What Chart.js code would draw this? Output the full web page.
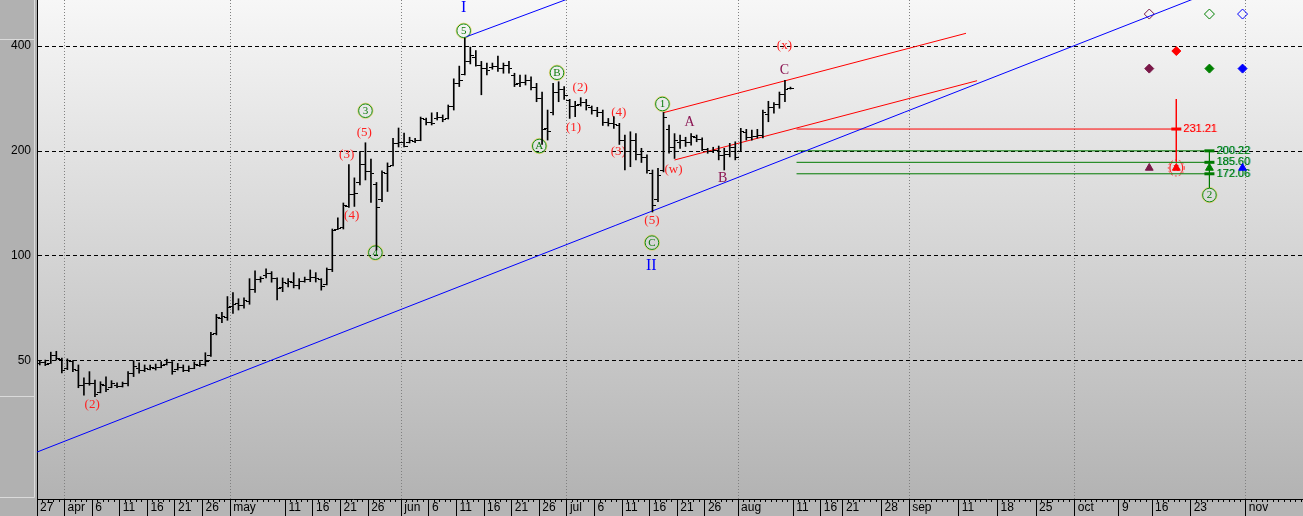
<!DOCTYPE html>
<html>
<head>
<meta charset="utf-8">
<script src="https://cdn.jsdelivr.net/npm/chart.js@4.4.1/dist/chart.umd.min.js"></script>
<style>
  html, body { margin: 0; padding: 0; background: #b4b4b4; overflow: hidden; }
</style>
</head>
<body>
<canvas id="wave_chart" width="1303" height="516"></canvas>
<script>
// daily bars, first bar = 27 mar, one bar per calendar day
const bar_high = [
  50.1, 50.3, 53.0, 53.3, 51.0, 50.7, 50.1, 48.7, 44.7, 46.6,
  44.1, 43.6, 45.0, 43.9, 43.3, 43.5, 46.6, 50.1, 49.4, 48.7,
  48.7, 49.0, 49.8, 50.6, 49.8, 49.2, 48.7, 48.4, 49.7, 49.8,
  52.8, 60.4, 68.0, 68.9, 76.5, 78.6, 75.4, 75.9, 86.1, 90.6,
  87.2, 91.8, 90.2, 86.5, 86.5, 86.1, 89.6, 86.1, 87.0, 91.2,
  89.6, 86.1, 92.4, 119.5, 128.7, 141.9, 182.8, 167.5, 199.1, 211.2,
  189.7, 162.5, 175.5, 184.9, 217.6, 232.8, 225.3, 219.0, 217.6, 250.3,
  248.6, 257.3, 258.0, 253.7, 271.0, 322.1, 350.3, 421.6, 397.2, 388.1,
  361.4, 357.5, 357.5, 374.5, 357.5, 361.4, 334.2, 330.4, 330.4, 326.4,
  312.6, 295.2, 262.1, 312.6, 316.0, 305.8, 281.3, 277.7, 284.4, 281.3,
  269.2, 266.9, 262.1, 248.0, 250.9, 240.1, 222.2, 227.1, 224.3, 203.6,
  194.9, 176.4, 178.4, 258.0, 237.5, 224.3, 222.2, 219.0, 224.3, 222.2,
  218.0, 203.6, 205.0, 206.7, 203.6, 210.4, 212.6, 232.3, 230.8, 229.7,
  230.8, 262.1, 277.7, 275.2, 295.2, 318.7, 305.0
];
const bar_low = [
  48.7, 48.5, 49.2, 50.3, 46.2, 47.2, 46.6, 41.9, 39.9, 42.6,
  39.5, 40.5, 40.8, 41.9, 41.9, 42.1, 42.4, 45.1, 46.1, 46.6,
  47.1, 47.1, 47.8, 48.7, 45.8, 47.1, 46.6, 46.6, 47.5, 48.2,
  48.4, 51.5, 59.4, 64.4, 65.4, 68.4, 70.0, 70.9, 72.7, 78.6,
  84.1, 86.5, 84.1, 74.8, 79.0, 81.5, 81.0, 80.4, 84.1, 84.4,
  84.2, 79.8, 82.6, 90.2, 119.0, 119.5, 137.8, 138.7, 159.9, 165.2,
  142.4, 104.0, 143.1, 153.1, 181.1, 205.4, 205.4, 210.9, 211.2, 214.0,
  237.5, 237.5, 245.4, 242.6, 246.9, 262.1, 306.0, 330.4, 355.4, 350.3,
  289.9, 330.4, 343.2, 338.4, 334.2, 334.2, 306.0, 306.0, 309.2, 299.2,
  276.9, 208.8, 215.0, 253.7, 276.9, 281.3, 248.0, 250.9, 269.0, 262.1,
  255.1, 250.9, 236.7, 235.9, 232.3, 208.8, 176.4, 180.3, 188.6, 185.4,
  172.7, 133.7, 143.1, 174.2, 197.0, 190.4, 203.6, 206.1, 208.0, 212.6,
  200.4, 197.0, 197.8, 188.6, 176.4, 192.4, 188.6, 199.1, 215.0, 215.0,
  217.9, 217.9, 242.6, 256.8, 265.2, 276.9, 301.0
];
const bar_open = [
  49.2, 49.4, 49.3, 52.0, 50.6, 47.5, 49.8, 47.0, 42.5, 43.2,
  43.0, 40.5, 42.5, 42.0, 42.5, 42.3, 43.0, 46.0, 47.6, 47.0,
  47.4, 47.6, 48.0, 48.9, 49.5, 47.3, 47.8, 47.1, 47.7, 48.5,
  49.0, 52.0, 60.0, 66.0, 66.5, 71.5, 73.0, 72.0, 74.0, 80.0,
  85.5, 88.0, 89.0, 86.0, 81.0, 83.5, 84.0, 82.5, 84.5, 85.5,
  86.8, 85.5, 83.0, 91.5, 119.5, 121.0, 139.0, 150.0, 162.0, 183.0,
  175.0, 160.0, 145.0, 172.0, 182.0, 210.0, 212.0, 212.0, 213.0, 214.5,
  246.0, 242.0, 248.0, 250.0, 248.0, 268.0, 312.0, 332.0, 360.0, 372.0,
  352.0, 345.0, 348.0, 350.0, 345.0, 352.0, 330.0, 312.0, 314.0, 318.0,
  305.0, 282.0, 232.0, 258.0, 295.0, 300.0, 280.0, 268.0, 272.0, 276.0,
  266.0, 262.0, 258.0, 242.0, 240.0, 236.0, 215.0, 200.0, 215.0, 195.0,
  192.0, 172.0, 145.0, 176.0, 230.0, 205.0, 212.0, 214.0, 212.0, 218.0,
  216.0, 202.0, 199.0, 201.0, 194.0, 196.0, 205.0, 200.0, 226.0, 218.0,
  220.0, 222.0, 255.0, 266.0, 272.0, 290.0, 303.0
];
const bar_close = [
  49.4, 49.0, 52.0, 50.8, 47.0, 50.0, 47.2, 42.5, 43.2, 43.0,
  40.2, 42.8, 41.5, 43.0, 42.2, 43.0, 46.0, 48.2, 46.8, 47.5,
  47.8, 47.9, 48.6, 49.4, 46.5, 48.0, 47.0, 47.6, 48.9, 49.0,
  49.8, 59.5, 66.5, 67.2, 71.0, 72.5, 72.0, 74.5, 80.0, 85.5,
  86.0, 89.2, 86.0, 80.5, 84.0, 84.5, 82.5, 84.5, 85.5, 87.0,
  86.0, 81.5, 91.5, 118.0, 120.0, 139.5, 150.0, 151.0, 183.0, 175.0,
  172.0, 138.0, 173.0, 181.0, 210.0, 212.0, 206.0, 214.0, 214.0, 248.0,
  242.0, 240.0, 250.0, 246.0, 268.0, 312.0, 318.0, 360.0, 375.0, 352.0,
  345.0, 340.0, 350.0, 345.0, 352.0, 345.0, 310.0, 314.0, 318.0, 305.0,
  282.0, 230.0, 228.0, 295.0, 300.0, 288.0, 268.0, 270.0, 276.0, 270.0,
  262.0, 258.0, 242.0, 240.0, 238.0, 215.0, 200.0, 215.0, 195.0, 192.0,
  176.0, 140.0, 170.0, 250.0, 205.0, 215.0, 214.0, 212.0, 220.0, 216.0,
  202.0, 199.0, 201.0, 194.0, 196.0, 205.0, 192.0, 228.0, 218.0, 220.0,
  222.0, 258.0, 266.0, 272.0, 290.0, 300.0, 302.0
];

// x axis: day number counted from 27 mar
const tick_days = [0, 5, 10, 15, 20, 25, 30, 35, 45, 50, 55, 60, 66, 71, 76, 81, 86, 91, 96, 101, 106, 111, 116, 121, 127, 137, 142, 146, 153, 158, 167, 174, 181, 188, 196, 202, 209, 219];
const tick_labels = ["27", "apr", "6", "11", "16", "21", "26", "may", "11", "16", "21", "26", "jun", "6", "11", "16", "21", "26", "jul", "6", "11", "16", "21", "26", "aug", "11", "16", "21", "28", "sep", "11", "18", "25", "oct", "9", "16", "23", "nov"];
const month_days = [5, 35, 66, 96, 127, 158, 188, 219];
const y_ticks = [50, 100, 200, 400];

// trend lines
const blue_lower_days = [0, 229.35];
const blue_lower_prices = [27.4, 724.6];
const blue_upper_days = [77.8, 100];
const blue_upper_prices = [425.3, 575.0];
const red_upper_days = [113.5, 168.3];
const red_upper_prices = [257.6, 435.0];
const red_lower_days = [115.5, 170.3];
const red_lower_prices = [188.5, 318.1];

// target levels
const level_prices = [231.21, 200.22, 185.60, 172.06];
const level_labels = ["231.21", "200.22", "185.60", "172.06"];
const level_start_day = 137.6;
const level_end_days = [206.4, 212.4, 212.4, 212.4];
const level_colors = ["#ff0000", "#007a00", "#007a00", "#007a00"];
const red_stem_days = [206.4, 206.4];
const red_stem_prices = [281.9, 186.3];
const green_stem_days = [212.4, 212.4];
const green_stem_prices = [200.22, 157];

// projection markers
const hollow_days = [201.5, 212.4, 218.4];
const hollow_prices = [494, 494, 494];
const hollow_colors = ["#7a1848", "#008000", "#0000ff"];
const solid_days = [206.4, 201.5, 212.4, 218.4];
const solid_prices = [387, 344.6, 344.6, 344.6];
const solid_colors = ["#ff0000", "#7a1848", "#008000", "#0000ff"];
const tri_days = [201.5, 206.4, 212.4, 218.4];
const tri_prices = [178.8, 178.8, 178.8, 178.8];
const tri_colors = ["#7a1848", "#ff0000", "#008000", "#0000ff"];

// wave labels
const wave_text = ["(2)", "(3)", "(4)", "(5)", "3", "4", "5", "I", "A", "B", "(2)", "(1)", "(4)", "(3)", "(5)", "C", "II", "1", "(w)", "A", "B", "C", "(x)", "(x)", "2"];
const wave_day = [10.0, 56.1, 57.0, 59.3, 59.5, 61.3, 77.3, 77.3, 91.0, 94.2, 98.4, 97.2, 105.4, 105.3, 111.4, 111.4, 111.3, 113.3, 115.3, 118.2, 124.2, 135.4, 135.4, 206.4, 212.4];
const wave_price = [37.4, 194.8, 130.2, 225.2, 260.9, 102.2, 442.4, 513.9, 206.7, 335.3, 303.6, 233.3, 257.6, 199.1, 126.2, 109.2, 93.9, 272.8, 176.4, 241.7, 167.0, 341.5, 400, 178.8, 149.5];
const wave_kind = ["red", "red", "red", "red", "circle", "circle", "circle", "roman", "circle", "circle", "red", "red", "red", "red", "red", "circle", "roman", "circle", "red", "letter", "letter", "letter", "red", "ring", "circle"];

const x_max = 229.35;
const y_min = 20.1;
const y_max = 542;

function tick_image(side) {
  const c = document.createElement("canvas");
  c.width = 7;
  c.height = 1;
  const g = c.getContext("2d");
  g.fillStyle = "#000";
  g.fillRect(side === "open" ? 0 : 4, 0, 3, 1);
  return c;
}

function segment(days, prices, color) {
  return {
    type: "line",
    data: days.map((d, i) => ({ x: d, y: prices[i] })),
    borderColor: color,
    borderWidth: 1,
    pointRadius: 0,
    fill: false,
    tension: 0,
  };
}

const background_plugin = {
  id: "background",
  beforeDraw(chart) {
    const { ctx, chartArea: a, width, height } = chart;
    ctx.save();
    const grad = ctx.createLinearGradient(0, a.top, 0, a.bottom);
    grad.addColorStop(0, "#f7f7f7");
    grad.addColorStop(1, "#b3b3b3");
    ctx.fillStyle = grad;
    ctx.fillRect(a.left, a.top, a.right - a.left, a.bottom - a.top);
    ctx.fillStyle = "#b5b5b5";
    ctx.fillRect(a.left, a.bottom, width - a.left, height - a.bottom);
    ctx.fillStyle = "#b1b1b1";
    ctx.fillRect(0, 0, a.left, height);
    ctx.strokeStyle = "#dadada";
    ctx.lineWidth = 1;
    ctx.beginPath();
    ctx.moveTo(34.5, 0);
    ctx.lineTo(34.5, 497.5);
    [39.5, 396.5, 497.5].forEach((yy) => {
      ctx.moveTo(0, yy);
      ctx.lineTo(34.5, yy);
    });
    ctx.stroke();
    ctx.restore();
  },
};

const label_plugin = {
  id: "wave_labels",
  beforeDatasetsDraw(chart) {
    const { ctx, chartArea: a, scales } = chart;
    ctx.save();
    ctx.beginPath();
    ctx.rect(a.left, a.top, a.right - a.left, a.bottom - a.top);
    ctx.clip();
    ctx.textAlign = "center";
    ctx.textBaseline = "middle";
    wave_text.forEach((t, i) => {
      const px = scales.x.getPixelForValue(wave_day[i]);
      const py = scales.y.getPixelForValue(wave_price[i]);
      const kind = wave_kind[i];
      if (kind === "circle") {
        ctx.lineWidth = 1;
        ctx.beginPath();
        ctx.arc(px, py, 7.6, 0, Math.PI * 2);
        ctx.strokeStyle = "rgba(225, 200, 70, 0.7)";
        ctx.stroke();
        ctx.beginPath();
        ctx.arc(px, py, 6.8, 0, Math.PI * 2);
        ctx.strokeStyle = "#138c13";
        ctx.stroke();
        ctx.fillStyle = "#0a7a0a";
        ctx.font = '11px "Liberation Serif", serif';
        ctx.fillText(t, px, py + 0.5);
      } else if (kind === "roman") {
        ctx.fillStyle = "#0000ff";
        ctx.font = '16px "Liberation Serif", serif';
        ctx.fillText(t, px, py);
      } else if (kind === "letter") {
        ctx.fillStyle = "#8a1452";
        ctx.font = '14px "Liberation Serif", serif';
        ctx.fillText(t, px, py);
      } else {
        if (kind === "ring") {
          ctx.save();
          ctx.setLineDash([2, 2]);
          ctx.strokeStyle = "#ff4040";
          ctx.lineWidth = 1;
          ctx.beginPath();
          ctx.arc(px, py, 8, 0, Math.PI * 2);
          ctx.stroke();
          ctx.restore();
        }
        ctx.fillStyle = "#ff2020";
        ctx.font = '13px "Liberation Serif", serif';
        ctx.fillText(t, px, py);
      }
    });
    ctx.textAlign = "left";
    ctx.font = '11px "Liberation Sans", Arial, sans-serif';
    level_labels.forEach((t, i) => {
      const px = scales.x.getPixelForValue(level_end_days[i]) + 7;
      const py = scales.y.getPixelForValue(level_prices[i]);
      ctx.fillStyle = i === 0 ? "#ff9a9a" : "#5ab4a8";
      ctx.fillText(t, px + 1, py);
      ctx.fillStyle = level_colors[i];
      ctx.fillText(t, px, py);
    });
    ctx.restore();
  },
};

const datasets = [
  {
    type: "bar",
    data: bar_high.map((h, i) => ({ x: i + 0.5, y: [bar_low[i], h] })),
    backgroundColor: "#000",
    borderWidth: 0,
    barThickness: 1,
  },
  {
    type: "scatter",
    data: bar_open.map((v, i) => ({ x: i + 0.5, y: v })),
    pointStyle: tick_image("open"),
    pointRadius: 3,
  },
  {
    type: "scatter",
    data: bar_close.map((v, i) => ({ x: i + 0.5, y: v })),
    pointStyle: tick_image("close"),
    pointRadius: 3,
  },
  segment(blue_lower_days, blue_lower_prices, "#0000ff"),
  segment(blue_upper_days, blue_upper_prices, "#0000ff"),
  segment(red_upper_days, red_upper_prices, "#ff0000"),
  segment(red_lower_days, red_lower_prices, "#ff0000"),
  segment(red_stem_days, red_stem_prices, "#ff0000"),
  segment(green_stem_days, green_stem_prices, "#007a00"),
];
level_prices.forEach((p, i) => {
  datasets.push(segment([level_start_day, level_end_days[i]], [p, p], level_colors[i]));
});
datasets.push({
  type: "scatter",
  data: level_prices.map((p, i) => ({ x: level_end_days[i], y: p })),
  pointStyle: "line",
  pointRadius: 5,
  pointBorderWidth: 3,
  pointBorderColor: level_colors,
});
datasets.push({
  type: "scatter",
  data: hollow_days.map((d, i) => ({ x: d, y: hollow_prices[i] })),
  pointStyle: "rectRot",
  pointRadius: 5,
  pointBorderWidth: 1,
  pointBorderColor: hollow_colors,
  pointBackgroundColor: "rgba(0,0,0,0)",
});
datasets.push({
  type: "scatter",
  data: solid_days.map((d, i) => ({ x: d, y: solid_prices[i] })),
  pointStyle: "rectRot",
  pointRadius: 4.5,
  pointBorderWidth: 1,
  pointBorderColor: solid_colors,
  pointBackgroundColor: solid_colors,
});
datasets.push({
  type: "scatter",
  data: tri_days.map((d, i) => ({ x: d, y: tri_prices[i] })),
  pointStyle: "triangle",
  pointRadius: 4.5,
  pointBorderWidth: 1,
  pointBorderColor: tri_colors,
  pointBackgroundColor: tri_colors,
});
datasets.forEach((ds) => {
  ds.xAxisID = "x";
  ds.yAxisID = "y";
});

const axis_font = { family: '"Liberation Sans", Arial, sans-serif', size: 12 };

const wave_chart = new Chart(document.getElementById("wave_chart"), {
  type: "bar",
  data: { datasets: datasets },
  options: {
    responsive: false,
    animation: false,
    devicePixelRatio: 1,
    events: [],
    layout: { padding: 0, autoPadding: false },
    plugins: {
      legend: { display: false },
      tooltip: { enabled: false },
    },
    scales: {
      x: {
        type: "linear",
        position: "bottom",
        weight: 1,
        min: 0,
        max: x_max,
        bounds: "data",
        offset: false,
        grid: {
          offset: false,
          lineWidth: 1,
          color: (ctx) => (ctx.tick && month_days.includes(ctx.tick.value) ? "#808080" : "rgba(0,0,0,0)"),
          tickColor: "#000",
          tickLength: 17,
        },
        border: { display: true, color: "#000", width: 1, dash: [1, 2] },
        ticks: {
          autoSkip: false,
          maxRotation: 0,
          minRotation: 0,
          align: "start",
          labelOffset: 3,
          padding: -16,
          color: "#000",
          font: axis_font,
          callback: (v, i) => tick_labels[i],
        },
        afterBuildTicks: (s) => {
          s.ticks = tick_days.map((v) => ({ value: v }));
        },
        afterFit: (s) => {
          s.height = 17;
          s.paddingLeft = 0;
          s.paddingRight = 0;
        },
      },
      x2: {
        type: "linear",
        position: "bottom",
        weight: 0,
        min: 0,
        max: x_max,
        bounds: "data",
        offset: false,
        grid: {
          offset: false,
          drawOnChartArea: false,
          color: "#000",
          tickColor: "#000",
          tickLength: 3,
        },
        border: { display: false },
        ticks: { display: false },
        afterBuildTicks: (s) => {
          const t = [];
          for (let d = 0; d <= x_max; d++) t.push({ value: d });
          s.ticks = t;
        },
        afterFit: (s) => {
          s.height = 0;
          s.paddingLeft = 0;
          s.paddingRight = 0;
        },
      },
      y: {
        type: "logarithmic",
        position: "left",
        min: y_min,
        max: y_max,
        bounds: "data",
        grid: { color: "#000", lineWidth: 1, drawTicks: false },
        border: { display: true, color: "#000", width: 1, dash: [4, 3] },
        ticks: {
          padding: 6,
          color: "#000",
          font: axis_font,
          callback: (v) => String(v),
        },
        afterBuildTicks: (s) => {
          s.ticks = y_ticks.map((v) => ({ value: v }));
        },
        afterFit: (s) => {
          s.width = 37;
          s.paddingTop = 0;
          s.paddingBottom = 0;
        },
      },
    },
  },
  plugins: [background_plugin, label_plugin],
});
</script>
</body>
</html>
